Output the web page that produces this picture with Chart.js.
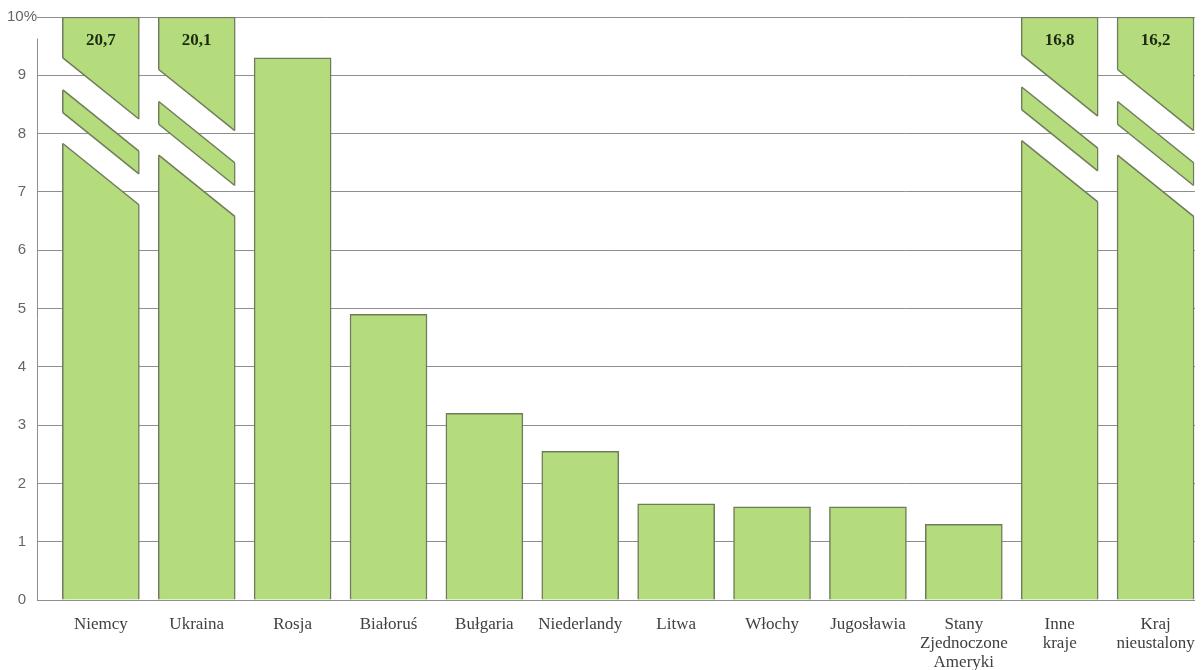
<!DOCTYPE html>
<html>
<head>
<meta charset="utf-8">
<script src="https://cdn.jsdelivr.net/npm/chart.js@4/dist/chart.umd.min.js"></script>
<style>
  html, body { margin: 0; padding: 0; background: #fff; }
</style>
</head>
<body>
<canvas id="chart" width="1202" height="670"></canvas>
<script>
// categories and values (percent)
const categories = [
    'Niemcy', 'Ukraina', 'Rosja', 'Białoruś', 'Bułgaria', 'Niederlandy',
    'Litwa', 'Włochy', 'Jugosławia', ['Stany', 'Zjednoczone', 'Ameryki'],
    ['Inne', 'kraje'], ['Kraj', 'nieustalony']
];
const values = [20.7, 20.1, 9.3, 4.9, 3.2, 2.55, 1.65, 1.6, 1.6, 1.3, 16.8, 16.2];
const yTicks = [0, 1, 2, 3, 4, 5, 6, 7, 8, 9, 10];
const axisMax = 10;

const fillColor = '#b4dc7d';
const edgeColor = '#6f7c5a';
const gridColor = '#8e8e8e';

// value level (left edge) where the axis break of each tall bar starts
const breakAt = { 0: 9.3, 1: 9.1, 10: 9.35, 11: 9.1 };

function breakGaps(chart) {
    const y = chart.scales.y;
    const unit = y.getPixelForValue(0) - y.getPixelForValue(1);
    const bars = chart.getDatasetMeta(0).data;
    const out = [];
    values.forEach((v, i) => {
        if (v <= axisMax) return;
        const p = bars[i].getProps(['x', 'width'], true);
        const L = p.x - p.width / 2, R = p.x + p.width / 2;
        const drop = 1.05 * unit;
        const top = y.getPixelForValue(breakAt[i]);
        const a = top + 0.55 * unit;           // sliver top
        const b = a + 0.39 * unit;             // sliver bottom
        const c = b + 0.53 * unit;             // lower piece top
        out.push({ L, R, drop, edges: [[top, a], [b, c]] });
    });
    return out;
}

const brokenBars = {
    id: 'brokenBars',
    beforeDatasetsDraw(chart) {
        // y axis line stops below the "10%" label
        const ctx = chart.ctx, y = chart.scales.y;
        const x = Math.round(chart.chartArea.left) + 0.5;
        ctx.save();
        ctx.strokeStyle = gridColor;
        ctx.lineWidth = 1;
        ctx.beginPath();
        ctx.moveTo(x, y.getPixelForValue(0));
        ctx.lineTo(x, y.getPixelForValue(9.63));
        ctx.stroke();
        ctx.restore();
    },
    beforeDatasetDraw(chart) {
        const ctx = chart.ctx;
        ctx.save();
        ctx.beginPath();
        ctx.rect(0, 0, chart.width, chart.height);
        breakGaps(chart).forEach(g => {
            const e = 4;
            const at = (x, y0) => y0 + (x - g.L) / (g.R - g.L) * g.drop;
            g.edges.forEach(([t, bt]) => {
                ctx.moveTo(g.L - e, at(g.L - e, t));
                ctx.lineTo(g.R + e, at(g.R + e, t));
                ctx.lineTo(g.R + e, at(g.R + e, bt));
                ctx.lineTo(g.L - e, at(g.L - e, bt));
                ctx.closePath();
            });
        });
        ctx.clip('evenodd');
    },
    afterDatasetDraw(chart) {
        const ctx = chart.ctx;
        ctx.restore();
        ctx.save();
        ctx.strokeStyle = edgeColor;
        ctx.lineWidth = 1.5;
        breakGaps(chart).forEach(g => {
            g.edges.forEach(pair => pair.forEach(y0 => {
                ctx.beginPath();
                ctx.moveTo(g.L + 0.5, y0);
                ctx.lineTo(g.R - 0.5, y0 + g.drop);
                ctx.stroke();
            }));
        });
        // real values of the broken bars
        const y = chart.scales.y;
        const bars = chart.getDatasetMeta(0).data;
        ctx.fillStyle = '#1e2a12';
        ctx.font = 'bold 17px "Liberation Serif"';
        ctx.textAlign = 'center';
        ctx.textBaseline = 'middle';
        values.forEach((v, i) => {
            if (v <= axisMax) return;
            ctx.fillText(v.toFixed(1).replace('.', ','), bars[i].x, y.getPixelForValue(9.6));
        });
        ctx.restore();
    }
};

new Chart(document.getElementById('chart').getContext('2d'), {
    type: 'bar',
    data: {
        datasets: [{
            data: values.map((v, i) => ({ x: i, y: Math.min(v, axisMax) })),
            backgroundColor: fillColor,
            borderColor: edgeColor,
            borderWidth: 1.5,
            barThickness: 77
        }]
    },
    options: {
        responsive: false,
        animation: false,
        layout: { padding: { top: 17, right: 7, left: 0, bottom: 0 } },
        plugins: { legend: { display: false }, tooltip: { enabled: false } },
        scales: {
            x: {
                type: 'linear',
                offset: false,
                min: -0.666,
                max: 11.41,
                grid: { display: false },
                border: { display: true, color: gridColor, width: 1 },
                ticks: {
                    stepSize: 1,
                    autoSkip: false,
                    maxRotation: 0,
                    includeBounds: false,
                    padding: 7,
                    color: '#404040',
                    font: { family: 'Liberation Serif', size: 17, lineHeight: 1.12 },
                    callback: v => Number.isInteger(v) ? categories[v] : ''
                },
                afterFit: s => { s.height = 70; }
            },
            y: {
                min: 0,
                max: 10,
                afterBuildTicks: s => { s.ticks = yTicks.map(v => ({ value: v })); },
                grid: { color: gridColor, drawTicks: false, lineWidth: 1 },
                border: { display: false },
                ticks: {
                    padding: 0,
                    crossAlign: 'center',
                    color: '#666',
                    font: { family: 'Liberation Sans', size: 15 },
                    callback: v => v === 10 ? '10%' : v
                },
                afterFit: s => { s.width = 37; }
            }
        }
    },
    plugins: [brokenBars]
});
</script>
</body>
</html>
